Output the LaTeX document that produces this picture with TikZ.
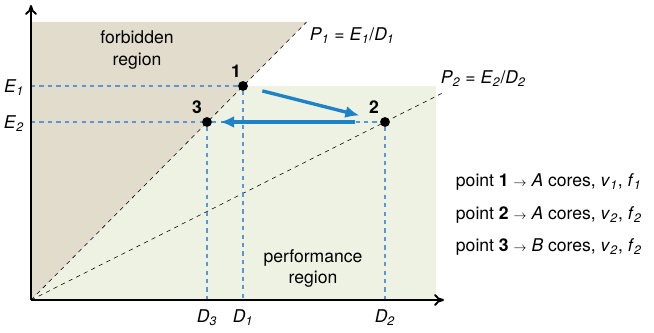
\documentclass[tikz,border=0pt]{standalone}
\usepackage{fontspec}
\setmainfont{TeX Gyre Heros}
\usetikzlibrary{arrows.meta}
\newcommand{\ivar}[2]{\textit{#1}\textsubscript{\textit{#2}}}
\definecolor{forbid}{HTML}{E1DCCB}
\definecolor{perf}{HTML}{EEF2E3}
\definecolor{arrowblue}{HTML}{1E82C8}
\definecolor{guideblue}{HTML}{5A96D8}

\begin{document}
\begin{tikzpicture}[>={Latex[length=3.5mm, width=3mm]}, every node/.style={font=\fontsize{12.5}{15}\selectfont},
	dot/.style={circle, fill=black, inner sep=0pt, minimum size=7pt},
	guide/.style={dashed, guideblue, line width=0.9pt},
	move/.style={->, arrowblue, line width=2.4pt}]
	\useasboundingbox (-0.775,-0.825) rectangle (15.575,7.5);
	% regions
	\fill[perf] (0,0) rectangle (10.125,5.35);
	\fill[forbid] (0,0) -- (0,6.95) -- (6.89,6.95) -- cycle;
	\coordinate (O) at (0,0);
	\coordinate (yend) at (0,7.375);
	\coordinate (xend) at (10.325,0);
	\coordinate (E1) at (0,5.35);
	\coordinate (E2) at (0,4.45);
	\foreach \n/\x in {D3/4.4, D1/5.3, D2/8.85} {\coordinate (\n) at (\x,0);}
	\coordinate (P1end) at (6.89,6.95);
	\coordinate (P2end) at (10.3,5.18);
	% power lines
	\draw[dashed, thin] (O) -- (P1end);
	\draw[dashed, thin] (O) -- (P2end);
	% operating points
	\node[dot] (p1) at (5.3,5.35) {};
	\node[dot] (p2) at (8.85,4.45) {};
	\node[dot] (p3) at (4.4,4.45) {};
	\draw[guide] (E1) -- (p1);
	\draw[guide] (E2) -- (p3);
	\draw[guide] (p3) -- (p2);
	\draw[guide] (p1) -- (D1);
	\draw[guide] (p3) -- (D3);
	\draw[guide] (p2) -- (D2);
	% axes
	\draw[-{To[length=2.5mm, width=3mm]}, line width=1.3pt] (O) -- (yend);
	\draw[-{To[length=2.5mm, width=3mm]}, line width=1.3pt] (O) -- (xend);
	% moves
	\draw[move, shorten <=0.37cm, shorten >=0.53cm] (p1) -- (p2);
	\draw[move, shorten <=0.63cm, shorten >=0.2cm] (p2) -- (p3);
	% labels
	\node (n1) at (5.125,5.72) {\textbf{1}};
	\node (n2) at (8.575,4.83) {\textbf{2}};
	\node (n3) at (4.15,4.83) {\textbf{3}};
	\node[left] (e1lab) at (-0.05,5.3) {\ivar{E}{1}};
	\node[left] (e2lab) at (-0.05,4.4) {\ivar{E}{2}};
	\foreach \n/\i in {D3/3, D1/1, D2/2} {\node[below] (lab\n) at ([yshift=-0.12cm]\n) {\ivar{D}{\i}};}
	\node[anchor=west] (p1lab) at (6.85,6.62) {\ivar{P}{1} = \ivar{E}{1}/\ivar{D}{1}};
	\node[anchor=west] (p2lab) at (10.12,5.53) {\ivar{P}{2} = \ivar{E}{2}/\ivar{D}{2}};
	\node[align=center] (forb) at (2.65,6.25) {forbidden\\region};
	\node[align=center] (perfl) at (7.05,0.78) {performance\\region};
	% legend
	\foreach \i/\y/\c/\v in {1/2.95/A/1, 2/2.125/A/2, 3/1.325/B/2} {\node[anchor=west] (leg\i) at (10.5,\y) {point \textbf{\i} {\small$\rightarrow$} \textit{\c} cores, \ivar{v}{\v}, \ivar{f}{\v}};}
\end{tikzpicture}
\end{document}
